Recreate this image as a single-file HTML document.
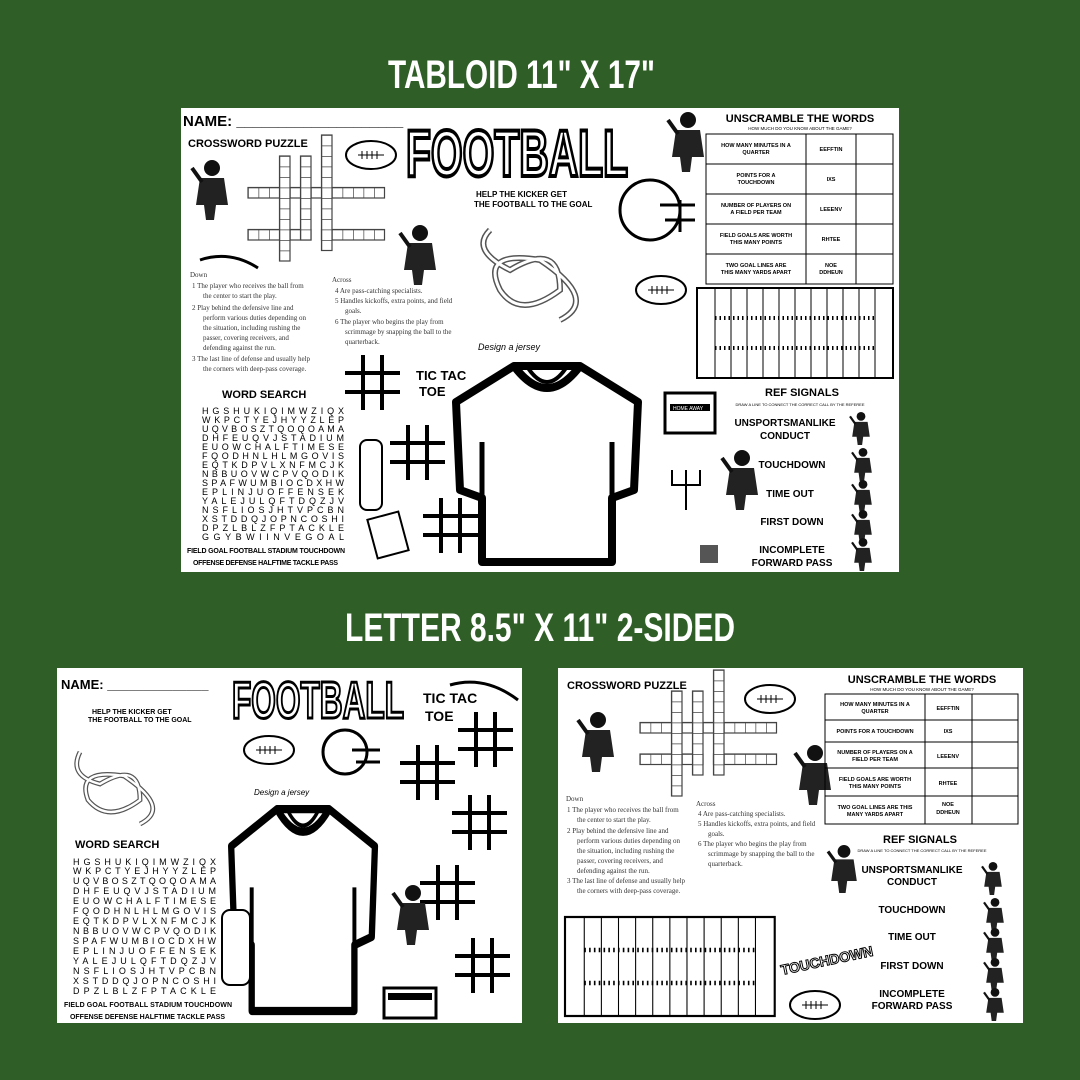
<!DOCTYPE html>
<html><head><meta charset="utf-8"><style>
html,body{margin:0;padding:0;background:#2f5e26;}
svg{display:block}
text{font-family:"Liberation Sans",sans-serif;}
.t{font-family:"Liberation Sans Narrow","Liberation Sans",sans-serif;font-weight:bold;}
.ws{font-family:"Liberation Mono",monospace;font-size:9px;}
.cl{font-family:"Liberation Serif",serif;font-size:7px;fill:#333}
</style></head><body>
<svg width="1080" height="1080" viewBox="0 0 1080 1080" xmlns="http://www.w3.org/2000/svg">
<defs>
<pattern id="cell" width="10.5" height="10.5" patternUnits="userSpaceOnUse"><rect x="0" y="0" width="10.5" height="10.5" fill="#fff"/><path d="M0,0 H10.5 M0,0 V10.5" stroke="#444" stroke-width="1.4" fill="none"/></pattern>
<g id="jersey"><path d="M62,4 L128,4 L186,40 L182,128 L160,136 L160,200 L30,200 L30,136 L8,128 L4,40 Z" fill="#fff" stroke="#000" stroke-width="8" stroke-linejoin="round"/><path d="M62,4 Q95,48 128,4" fill="none" stroke="#000" stroke-width="8"/><path d="M76,6 Q95,34 114,6" fill="none" stroke="#000" stroke-width="4"/><path d="M30,136 L30,80 M160,136 L160,80" stroke="#000" stroke-width="5"/></g>
<g id="ttt"><path d="M18,0 V55 M37,0 V55 M0,18 H55 M0,37 H55" stroke="#000" stroke-width="4"/></g>
<g id="field"><rect x="0" y="0" width="196" height="90" fill="#fff" stroke="#000" stroke-width="2"/><path d="M18,0 V90 M178,0 V90 M34,0V90 M50,0V90 M66,0V90 M82,0V90 M98,0V90 M114,0V90 M130,0V90 M146,0V90 M162,0V90" stroke="#000" stroke-width="1"/><path d="M18,30 H178 M18,60 H178" stroke="#000" stroke-dasharray="1.5 3" stroke-width="4"/></g>
<g id="ball"><ellipse cx="25" cy="15" rx="25" ry="14" fill="#fff" stroke="#000" stroke-width="2"/><path d="M12,15 H38 M16,11V19 M21,11V19 M26,11V19 M31,11V19" stroke="#000"/></g>
<g id="player"><circle cx="20" cy="8" r="8" fill="#111"/><path d="M8,18 L32,18 L36,45 L24,45 L22,60 L14,60 L12,45 L4,45 Z" fill="#222"/><path d="M10,22 L0,8" stroke="#111" stroke-width="4"/></g>
</defs>

<rect width="1080" height="1080" fill="#2f5e26"/>
<text x="388" y="88" class="t" font-size="40" fill="#fff" textLength="267" lengthAdjust="spacingAndGlyphs">TABLOID 11" X 17"</text>
<text x="345" y="641" class="t" font-size="40" fill="#fff" textLength="390" lengthAdjust="spacingAndGlyphs">LETTER 8.5" X 11" 2-SIDED</text>

<!-- TOP SHEET -->
<rect x="181" y="108" width="718" height="464" fill="#fff"/>
<text x="183" y="126" font-size="15" font-weight="bold">NAME: ____________________</text>
<text x="188" y="147" font-size="11" font-weight="bold">CROSSWORD PUZZLE</text>
<text x="406" y="176" class="t" font-size="66" fill="#fff" stroke="#000" stroke-width="4" textLength="222" lengthAdjust="spacingAndGlyphs">FOOTBALL</text>
<g transform="translate(248,135)" stroke="#444" stroke-width="1.2">
<rect x="0" y="52.5" width="136.5" height="10.5" fill="url(#cell)"/>
<rect x="0" y="94.5" width="63" height="10.5" fill="url(#cell)"/>
<rect x="73.5" y="94.5" width="63" height="10.5" fill="url(#cell)"/>
<rect x="31.5" y="21" width="10.5" height="105" fill="url(#cell)"/>
<rect x="52.5" y="21" width="10.5" height="84" fill="url(#cell)"/>
<rect x="73.5" y="0" width="10.5" height="115.5" fill="url(#cell)"/>
</g>
<use href="#player" x="192" y="160"/>
<use href="#ball" x="346" y="140"/>
<path d="M200,260 Q230,250 258,268" stroke="#000" stroke-width="3" fill="none"/>
<use href="#player" x="400" y="225"/>
<text x="190" y="277" class="cl">Down</text>
<text x="192" y="288" class="cl">1  The player who receives the ball from</text>
<text x="203" y="298" class="cl">the center to start the play.</text>
<text x="192" y="310" class="cl">2  Play behind the defensive line and</text>
<text x="203" y="320" class="cl">perform various duties depending on</text>
<text x="203" y="330" class="cl">the situation, including rushing the</text>
<text x="203" y="340" class="cl">passer, covering receivers, and</text>
<text x="203" y="350" class="cl">defending against the run.</text>
<text x="192" y="361" class="cl">3  The last line of defense and usually help</text>
<text x="203" y="371" class="cl">the corners with deep-pass coverage.</text>
<text x="332" y="282" class="cl">Across</text>
<text x="335" y="293" class="cl">4  Are pass-catching specialists.</text>
<text x="335" y="303" class="cl">5  Handles kickoffs, extra points, and field</text>
<text x="345" y="313" class="cl">goals.</text>
<text x="335" y="324" class="cl">6  The player who begins the play from</text>
<text x="345" y="334" class="cl">scrimmage by snapping the ball to the</text>
<text x="345" y="344" class="cl">quarterback.</text>
<text x="476" y="197" class="t" font-size="8">HELP THE KICKER GET</text>
<text x="474" y="207" class="t" font-size="8">THE FOOTBALL TO THE GOAL</text>
<path d="M490,230 Q470,250 510,270 Q560,240 560,290 Q520,320 500,290 Q480,250 540,260 Q600,300 560,320" fill="none" stroke="#555" stroke-width="6"/>
<path d="M490,230 Q470,250 510,270 Q560,240 560,290 Q520,320 500,290 Q480,250 540,260 Q600,300 560,320" fill="none" stroke="#fff" stroke-width="3"/>
<circle cx="650" cy="210" r="30" fill="#fff" stroke="#000" stroke-width="3"/><path d="M660,205 H695 M665,220 H695 M680,200 V232" stroke="#000" stroke-width="3"/>
<use href="#ball" x="636" y="275"/>
<use href="#player" x="668" y="112"/>
<text x="478" y="350" font-style="italic" font-family="Liberation Serif" font-size="9">Design a jersey</text>
<use href="#ttt" x="345" y="355"/>
<text x="416" y="380" class="t" font-size="13" font-weight="normal">TIC TAC</text>
<text x="419" y="396" class="t" font-size="13" font-weight="normal">TOE</text>
<use href="#ttt" x="390" y="425"/>
<use href="#ttt" x="423" y="498"/>
<use href="#jersey" x="452" y="362"/>
<rect x="360" y="440" width="22" height="70" rx="7" fill="#fff" stroke="#000" stroke-width="2"/>
<rect x="372" y="515" width="32" height="40" fill="#fff" stroke="#000" stroke-width="2" transform="rotate(-15 388 535)"/>
<rect x="665" y="393" width="50" height="40" fill="#fff" stroke="#000" stroke-width="3"/><rect x="670" y="404" width="40" height="7" fill="#000"/><text x="673" y="410" font-size="5" fill="#fff">HOME AWAY</text>
<path d="M686,470 V510 M672,470 V485 H700 V470" stroke="#000" stroke-width="2" fill="none"/>
<use href="#player" x="722" y="450"/>
<rect x="700" y="545" width="18" height="18" fill="#555"/>
<text x="222" y="398" font-size="11" font-weight="bold">WORD SEARCH</text>
<g class="ws">
<text x="202" y="414" textLength="142">HGSHUKIQIMWZIQX</text>
<text x="202" y="423" textLength="142">WKPCTYEJHYYZLEP</text>
<text x="202" y="432" textLength="142">UQVBOSZTQOQOAMA</text>
<text x="202" y="441" textLength="142">DHFEUQVJSTADIUM</text>
<text x="202" y="450" textLength="142">EUOWCHALFTIMESE</text>
<text x="202" y="459" textLength="142">FQODHNLHLMGOVIS</text>
<text x="202" y="468" textLength="142">EQTKDPVLXNFMCJK</text>
<text x="202" y="477" textLength="142">NBBUOVWCPVQODIK</text>
<text x="202" y="486" textLength="142">SPAFWUMBIOCDXHW</text>
<text x="202" y="495" textLength="142">EPLINJUOFFENSEK</text>
<text x="202" y="504" textLength="142">YALEJULQFTDQZJV</text>
<text x="202" y="513" textLength="142">NSFLIOSJHTVPCBN</text>
<text x="202" y="522" textLength="142">XSTDDQJOPNCOSHI</text>
<text x="202" y="531" textLength="142">DPZLBLZFPTACKLE</text>
<text x="202" y="540" textLength="142">GGYBWIINVEGOAL</text>
</g>
<text x="187" y="553" font-size="7" font-weight="bold" textLength="158">FIELD GOAL FOOTBALL STADIUM TOUCHDOWN</text>
<text x="193" y="565" font-size="7" font-weight="bold" textLength="145">OFFENSE DEFENSE HALFTIME TACKLE PASS</text>
<text x="800" y="122" text-anchor="middle" class="t" font-size="11">UNSCRAMBLE THE WORDS</text>
<text x="800" y="130" text-anchor="middle" font-size="4.5">HOW MUCH DO YOU KNOW ABOUT THE GAME?</text>
<g stroke="#000" stroke-width="1" fill="none"><rect x="706" y="134" width="187" height="150"/><path d="M706,164H893M706,194H893M706,224H893M706,254H893M806,134V284M856,134V284"/></g>
<g font-size="5.5" font-weight="bold" text-anchor="middle">
<text x="756" y="147">HOW MANY MINUTES IN A</text><text x="756" y="154">QUARTER</text><text x="831" y="151">EEFFTIN</text>
<text x="756" y="177">POINTS FOR A</text><text x="756" y="184">TOUCHDOWN</text><text x="831" y="181">IXS</text>
<text x="756" y="207">NUMBER OF PLAYERS ON</text><text x="756" y="214">A FIELD PER TEAM</text><text x="831" y="211">LEEENV</text>
<text x="756" y="237">FIELD GOALS ARE WORTH</text><text x="756" y="244">THIS MANY POINTS</text><text x="831" y="241">RHTEE</text>
<text x="756" y="267">TWO GOAL LINES ARE</text><text x="756" y="274">THIS MANY YARDS APART</text><text x="831" y="267">NOE</text><text x="831" y="274">DDHEUN</text>
</g>
<use href="#field" x="697" y="288"/>
<text x="802" y="396" text-anchor="middle" class="t" font-size="11">REF SIGNALS</text>
<text x="800" y="406" text-anchor="middle" font-size="4">DRAW A LINE TO CONNECT THE CORRECT CALL BY THE REFEREE</text>
<g class="t" font-weight="normal" font-size="10" text-anchor="middle">
<text x="785" y="426">UNSPORTSMANLIKE</text><text x="785" y="439">CONDUCT</text>
<text x="792" y="468">TOUCHDOWN</text><text x="790" y="497">TIME OUT</text><text x="792" y="525">FIRST DOWN</text>
<text x="792" y="553">INCOMPLETE</text><text x="792" y="566">FORWARD PASS</text>
</g>
<use href="#player" transform="translate(850,412) scale(0.55)"/><use href="#player" transform="translate(852,448) scale(0.55)"/><use href="#player" transform="translate(852,480) scale(0.55)"/><use href="#player" transform="translate(852,510) scale(0.55)"/><use href="#player" transform="translate(852,538) scale(0.55)"/>

<!-- BOTTOM LEFT SHEET -->
<rect x="57" y="668" width="465" height="355" fill="#fff"/>
<text x="61" y="689" font-size="13" font-weight="bold">NAME: ______________</text>
<text x="232" y="718" class="t" font-size="52" fill="#fff" stroke="#000" stroke-width="3" textLength="172" lengthAdjust="spacingAndGlyphs">FOOTBALL</text>
<text x="92" y="714" class="t" font-size="7">HELP THE KICKER GET</text>
<text x="88" y="722" class="t" font-size="7">THE FOOTBALL TO THE GOAL</text>
<g transform="translate(60,720) scale(0.8) translate(-60,-720)">
<path d="M85,760 Q70,790 110,800 Q160,770 160,820 Q120,850 95,820 Q80,780 140,790 Q200,830 160,850" fill="none" stroke="#555" stroke-width="6"/>
<path d="M85,760 Q70,790 110,800 Q160,770 160,820 Q120,850 95,820 Q80,780 140,790 Q200,830 160,850" fill="none" stroke="#fff" stroke-width="3"/>
</g>
<use href="#ball" x="244" y="735"/>
<circle cx="345" cy="752" r="22" fill="#fff" stroke="#000" stroke-width="3"/><path d="M352,750 H380 M356,762 H380" stroke="#000" stroke-width="3"/>
<text x="423" y="703" class="t" font-size="14" font-weight="normal">TIC TAC</text>
<text x="425" y="721" class="t" font-size="14" font-weight="normal">TOE</text>
<path d="M450,685 Q485,675 518,700" stroke="#000" stroke-width="3" fill="none"/>
<use href="#ttt" x="458" y="712"/><use href="#ttt" x="400" y="745"/><use href="#ttt" x="452" y="795"/><use href="#ttt" x="420" y="865"/><use href="#ttt" x="455" y="938"/>
<text x="254" y="795" font-style="italic" font-family="Liberation Serif" font-size="8">Design a jersey</text>
<g transform="translate(228,805) scale(0.79,1.03)"><use href="#jersey"/></g>
<rect x="222" y="910" width="28" height="75" rx="8" fill="#fff" stroke="#000" stroke-width="2"/>
<use href="#player" x="393" y="885"/>
<rect x="384" y="988" width="52" height="30" fill="#fff" stroke="#000" stroke-width="3"/><rect x="388" y="993" width="44" height="7" fill="#000"/>
<text x="75" y="848" font-size="11" font-weight="bold">WORD SEARCH</text>
<g class="ws" font-size="9.5">
<text x="73" y="865" textLength="143">HGSHUKIQIMWZIQX</text>
<text x="73" y="874" textLength="143">WKPCTYEJHYYZLEP</text>
<text x="73" y="884" textLength="143">UQVBOSZTQOQOAMA</text>
<text x="73" y="894" textLength="143">DHFEUQVJSTADIUM</text>
<text x="73" y="904" textLength="143">EUOWCHALFTIMESE</text>
<text x="73" y="914" textLength="143">FQODHNLHLMGOVIS</text>
<text x="73" y="924" textLength="143">EQTKDPVLXNFMCJK</text>
<text x="73" y="934" textLength="143">NBBUOVWCPVQODIK</text>
<text x="73" y="944" textLength="143">SPAFWUMBIOCDXHW</text>
<text x="73" y="954" textLength="143">EPLINJUOFFENSEK</text>
<text x="73" y="964" textLength="143">YALEJULQFTDQZJV</text>
<text x="73" y="974" textLength="143">NSFLIOSJHTVPCBN</text>
<text x="73" y="984" textLength="143">XSTDDQJOPNCOSHI</text>
<text x="73" y="994" textLength="143">DPZLBLZFPTACKLE</text>
</g>
<text x="64" y="1007" font-size="7" font-weight="bold" textLength="168">FIELD GOAL FOOTBALL STADIUM TOUCHDOWN</text>
<text x="70" y="1019" font-size="7" font-weight="bold" textLength="155">OFFENSE DEFENSE HALFTIME TACKLE PASS</text>

<!-- BOTTOM RIGHT SHEET -->
<rect x="558" y="668" width="465" height="355" fill="#fff"/>
<text x="567" y="689" font-size="11" font-weight="bold">CROSSWORD PUZZLE</text>
<g transform="translate(640,670)" stroke="#444" stroke-width="1.2">
<rect x="0" y="52.5" width="136.5" height="10.5" fill="url(#cell)"/>
<rect x="0" y="84" width="63" height="10.5" fill="url(#cell)"/>
<rect x="73.5" y="84" width="63" height="10.5" fill="url(#cell)"/>
<rect x="31.5" y="21" width="10.5" height="105" fill="url(#cell)"/>
<rect x="52.5" y="21" width="10.5" height="84" fill="url(#cell)"/>
<rect x="73.5" y="0" width="10.5" height="105" fill="url(#cell)"/>
</g>
<use href="#player" x="578" y="712"/>
<use href="#ball" x="745" y="684"/>
<use href="#player" x="795" y="745"/>
<text x="566" y="801" class="cl">Down</text>
<text x="567" y="812" class="cl">1  The player who receives the ball from</text>
<text x="577" y="822" class="cl">the center to start the play.</text>
<text x="567" y="833" class="cl">2  Play behind the defensive line and</text>
<text x="577" y="843" class="cl">perform various duties depending on</text>
<text x="577" y="853" class="cl">the situation, including rushing the</text>
<text x="577" y="863" class="cl">passer, covering receivers, and</text>
<text x="577" y="873" class="cl">defending against the run.</text>
<text x="567" y="883" class="cl">3  The last line of defense and usually help</text>
<text x="577" y="893" class="cl">the corners with deep-pass coverage.</text>
<text x="696" y="806" class="cl">Across</text>
<text x="698" y="816" class="cl">4  Are pass-catching specialists.</text>
<text x="698" y="826" class="cl">5  Handles kickoffs, extra points, and field</text>
<text x="708" y="836" class="cl">goals.</text>
<text x="698" y="846" class="cl">6  The player who begins the play from</text>
<text x="708" y="856" class="cl">scrimmage by snapping the ball to the</text>
<text x="708" y="866" class="cl">quarterback.</text>
<use href="#field" transform="translate(565,917) scale(1.07,1.1)"/>
<text x="782" y="975" class="t" font-size="14" fill="#fff" stroke="#000" stroke-width="1" transform="rotate(-12 782 975)">TOUCHDOWN</text>
<use href="#ball" x="790" y="990"/>
<text x="922" y="683" text-anchor="middle" class="t" font-size="11">UNSCRAMBLE THE WORDS</text>
<text x="922" y="691" text-anchor="middle" font-size="4.5">HOW MUCH DO YOU KNOW ABOUT THE GAME?</text>
<g stroke="#000" stroke-width="1" fill="none"><rect x="825" y="694" width="193" height="130"/><path d="M825,720H1018M825,742H1018M825,768H1018M825,796H1018M925,694V824M972,694V824"/></g>
<g font-size="5.5" font-weight="bold" text-anchor="middle">
<text x="875" y="706">HOW MANY MINUTES IN A</text><text x="875" y="713">QUARTER</text><text x="948" y="710">EEFFTIN</text>
<text x="875" y="733">POINTS FOR A TOUCHDOWN</text><text x="948" y="733">IXS</text>
<text x="875" y="754">NUMBER OF PLAYERS ON A</text><text x="875" y="761">FIELD PER TEAM</text><text x="948" y="758">LEEENV</text>
<text x="875" y="781">FIELD GOALS ARE WORTH</text><text x="875" y="788">THIS MANY POINTS</text><text x="948" y="785">RHTEE</text>
<text x="875" y="809">TWO GOAL LINES ARE THIS</text><text x="875" y="816">MANY YARDS APART</text><text x="948" y="806">NOE</text><text x="948" y="814">DDHEUN</text>
</g>
<text x="920" y="843" text-anchor="middle" class="t" font-size="11">REF SIGNALS</text>
<text x="922" y="852" text-anchor="middle" font-size="4">DRAW A LINE TO CONNECT THE CORRECT CALL BY THE REFEREE</text>
<g class="t" font-weight="normal" font-size="10" text-anchor="middle">
<text x="912" y="873">UNSPORTSMANLIKE</text><text x="912" y="885">CONDUCT</text>
<text x="912" y="913">TOUCHDOWN</text><text x="912" y="940">TIME OUT</text><text x="912" y="969">FIRST DOWN</text>
<text x="912" y="997">INCOMPLETE</text><text x="912" y="1009">FORWARD PASS</text>
</g>
<use href="#player" transform="translate(828,845) scale(0.8)"/>
<use href="#player" transform="translate(982,862) scale(0.55)"/><use href="#player" transform="translate(984,898) scale(0.55)"/><use href="#player" transform="translate(984,928) scale(0.55)"/><use href="#player" transform="translate(984,958) scale(0.55)"/><use href="#player" transform="translate(984,988) scale(0.55)"/>
</svg>
</body></html>
